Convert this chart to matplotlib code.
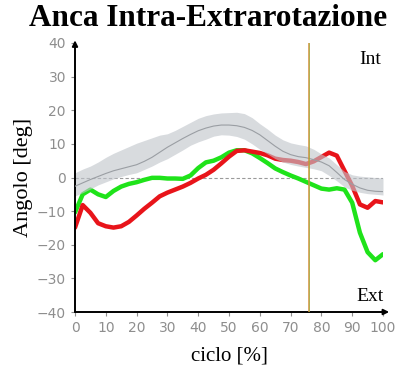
import numpy as np
import matplotlib
matplotlib.use("Agg")
import matplotlib.pyplot as plt

# ciclo del passo [%]
ciclo = [0, 2.5, 5, 7.5, 10, 12.5, 15, 17.5, 20, 22.5, 25, 27.5, 30, 32.5, 35, 37.5,
         40, 42.5, 45, 47.5, 50, 52.5, 55, 57.5, 60, 62.5, 65, 67.5, 70, 72.5, 75,
         77.5, 80, 82.5, 85, 87.5, 90, 92.5, 95, 97.5, 100]

# lato sinistro (verde) e destro (rosso)
sinistro = [-10.4, -5.0, -3.6, -5.0, -5.8, -4.0, -2.7, -1.9, -1.4, -0.7, -0.1, -0.1,
            -0.3, -0.3, -0.4, 0.6, 2.8, 4.5, 5.0, 6.0, 7.4, 8.1, 8.1, 7.2, 5.8, 4.3,
            2.7, 1.6, 0.6, -0.3, -1.3, -2.3, -3.3, -3.6, -3.2, -3.6, -7.5, -16.4,
            -22.2, -24.6, -22.8]
destro = [-14.9, -8.2, -10.5, -13.6, -14.5, -14.9, -14.5, -13.2, -11.3, -9.3, -7.5,
          -5.6, -4.5, -3.6, -2.7, -1.6, -0.3, 0.8, 2.3, 4.2, 6.2, 7.9, 8.1, 7.7, 7.3,
          6.6, 5.6, 5.2, 5.0, 4.6, 4.0, 4.8, 6.1, 7.4, 6.5, 2.0, -2.5, -8.0, -9.0,
          -7.0, -7.4]

# fascia normativa (media, limite sup., limite inf.)
norma_media = [-2.6, -1.6, -0.6, 0.3, 1.2, 2.0, 2.6, 3.2, 3.8, 4.8, 6.0, 7.5, 9.0,
               10.3, 11.6, 12.8, 13.9, 14.7, 15.3, 15.6, 15.6, 15.4, 14.9, 14.0,
               12.7, 11.0, 9.3, 7.8, 6.8, 6.2, 5.9, 5.3, 4.6, 3.5, 1.5, -0.6, -2.0,
               -3.1, -3.8, -4.1, -4.2]
norma_sup = [1.4, 2.5, 3.4, 4.6, 6.0, 7.2, 8.2, 9.2, 10.2, 11.0, 11.8, 12.6, 13.0,
             14.0, 15.2, 16.4, 17.6, 18.4, 18.9, 19.2, 19.3, 19.4, 19.0, 17.8, 16.0,
             14.4, 12.6, 11.2, 10.3, 9.8, 9.4, 8.4, 7.0, 5.8, 3.8, 1.8, 0.8, 0.4,
             0.2, 0.0, -0.1]
norma_inf = [-5.5, -4.5, -3.4, -2.2, -1.3, -0.4, 0.3, 0.9, 1.4, 2.4, 3.4, 4.6, 5.6,
             6.9, 8.2, 9.6, 10.6, 11.4, 12.3, 12.7, 12.6, 12.2, 11.4, 10.0, 8.4, 7.0,
             5.6, 4.6, 3.9, 3.4, 3.0, 2.6, 2.0, 0.6, -1.0, -2.8, -3.8, -4.4, -4.8,
             -5.0, -5.2]

stacco_piede = 76
yticks = [-40, -30, -20, -10, 0, 10, 20, 30, 40]
xticks = [0, 10, 20, 30, 40, 50, 60, 70, 80, 90, 100]

serif = ["Liberation Serif", "DejaVu Serif"]

fig = plt.figure(figsize=(4.04, 3.72), dpi=100)
ax = fig.add_axes([75/404, 1 - 312/372, 308/404, 269/372])

ax.plot(ciclo, sinistro, color="#1fe31a", lw=3.2, solid_capstyle="round", zorder=2)
ax.plot(ciclo, destro, color="#e8141a", lw=3.2, solid_capstyle="round", zorder=2)
ax.fill_between(ciclo, norma_inf, norma_sup, color="#c0c5cb", alpha=0.62, lw=0, zorder=3)
ax.plot(ciclo, norma_media, color="#9a9ea3", lw=0.8, zorder=4)

ax.axhline(0, color="#9a9a9a", lw=0.8, ls=(0, (3, 2)), zorder=1)
ax.axvline(stacco_piede, color="#d38f3a", lw=1.1, zorder=5)
ax.axvline(stacco_piede, color="#90b444", lw=0.5, alpha=0.8, zorder=5)

ax.set_xlim(0, 100)
ax.set_ylim(-40, 40)
ax.set_xticks(xticks)
ax.set_yticks(yticks)
ax.tick_params(colors="#8e8e8e", labelsize=10, length=3, width=0.8)
for s in ax.spines.values():
    s.set_visible(False)

# assi con frecce
ax.annotate("", xy=(1.02, 0), xytext=(0, 0), xycoords="axes fraction",
            arrowprops=dict(arrowstyle="-|>", color="black", lw=1.4,
                            mutation_scale=8, shrinkA=0, shrinkB=0))
ax.annotate("", xy=(0, 1.01), xytext=(0, 0), xycoords="axes fraction",
            arrowprops=dict(arrowstyle="-|>", color="black", lw=1.4,
                            mutation_scale=8, shrinkA=0, shrinkB=0))

ax.text(95.8, 35, "Int", family=serif, fontsize=14, ha="center", va="center")
ax.text(95.8, -35.5, "Ext", family=serif, fontsize=14, ha="center", va="center")

ax.set_xlabel("ciclo [%]", family=serif, fontsize=15, labelpad=8)
ax.set_ylabel("Angolo [deg]", family=serif, fontsize=16, labelpad=3)

fig.text(208/404, 1 - 19/372, "Anca Intra-Extrarotazione", family=serif,
         fontweight="bold", fontsize=22.5, ha="center", va="center")

fig.savefig("out.png", dpi=100)
